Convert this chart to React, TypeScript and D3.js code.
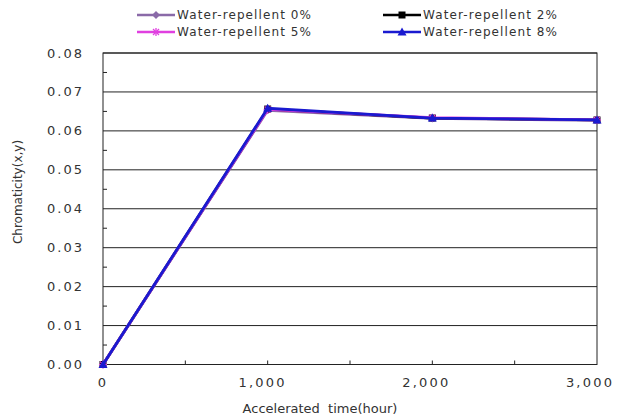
import React from "react";
import * as d3 from "d3";

const hours = [0, 1000, 2000, 3000];
const seriesNames = ["Water-repellent 0%", "Water-repellent 2%", "Water-repellent 5%", "Water-repellent 8%"];
const wr0 = [0, 0.0653, 0.0632, 0.0627];
const wr2 = [0, 0.0656, 0.0633, 0.0628];
const wr5 = [0, 0.0655, 0.0634, 0.0628];
const wr8 = [0, 0.0658, 0.0633, 0.0628];
const yTicks = [0, 0.01, 0.02, 0.03, 0.04, 0.05, 0.06, 0.07, 0.08];
const xTicks = [0, 1000, 2000, 3000];
const xMinor = [500, 1500, 2500];
const yMinor = [0.005, 0.015, 0.025, 0.035, 0.045, 0.055, 0.065, 0.075];

const colors = ["#8a6aa8", "#000000", "#e040e0", "#1a1ad0"];
const markers = ["diamond", "square", "star", "triangle"];

const W = 617, H = 419;
const L = 103, R = 597, T = 53, B = 364.5;

function Marker({ type, x, y, color }: { type: string; x: number; y: number; color: string }) {
  if (type === "diamond") {
    return <path d={`M${x},${y - 4}L${x + 4},${y}L${x},${y + 4}L${x - 4},${y}Z`} fill={color} />;
  }
  if (type === "square") {
    return <rect x={x - 3.5} y={y - 3.5} width={7} height={7} fill={color} />;
  }
  if (type === "star") {
    return (
      <g stroke={color} strokeWidth={1.3}>
        <line x1={x - 4} y1={y} x2={x + 4} y2={y} />
        <line x1={x} y1={y - 4} x2={x} y2={y + 4} />
        <line x1={x - 3} y1={y - 3} x2={x + 3} y2={y + 3} />
        <line x1={x - 3} y1={y + 3} x2={x + 3} y2={y - 3} />
      </g>
    );
  }
  return <path d={`M${x},${y - 4.5}L${x + 4.5},${y + 3.5}L${x - 4.5},${y + 3.5}Z`} fill={color} />;
}

export default function App() {
  const x = d3.scaleLinear().domain([0, 3000]).range([L, R]);
  const y = d3.scaleLinear().domain([0, 0.08]).range([B, T]);
  const data = [wr0, wr2, wr5, wr8];
  const line = d3
    .line<number>()
    .x((_, i) => x(hours[i]))
    .y((d) => y(d));
  const font = "'DejaVu Sans', sans-serif";
  const textColor = "#333";
  const legendPos = [
    { lx: 137, ty: 15 },
    { lx: 383, ty: 15 },
    { lx: 137, ty: 32 },
    { lx: 383, ty: 32 },
  ];
  return (
    <svg width={W} height={H} style={{ position: "absolute", left: 0, top: 0, background: "#fff" }}>
      <rect width={W} height={H} fill="#fff" />
      {yTicks.slice(1).map((t) => (
        <line key={t} x1={L} x2={R} y1={y(t)} y2={y(t)} stroke="#222" strokeWidth={1} />
      ))}
      <rect x={L} y={T} width={R - L} height={B - T} fill="none" stroke="#222" strokeWidth={1} />
      {yMinor.map((t) => (
        <line key={t} x1={L} x2={L + 4} y1={y(t)} y2={y(t)} stroke="#222" />
      ))}
      {xMinor.map((t) => (
        <line key={t} x1={x(t)} x2={x(t)} y1={B} y2={B - 4} stroke="#222" />
      ))}
      {xTicks.slice(1, 3).map((t) => (
        <line key={t} x1={x(t)} x2={x(t)} y1={B} y2={B - 4} stroke="#222" />
      ))}
      {yTicks.map((t) => (
        <text key={t} x={84} y={y(t)} dy="0.35em" textAnchor="end" fontFamily={font} fontSize={13} fill={textColor} letterSpacing={2}>
          {t.toFixed(2)}
        </text>
      ))}
      {xTicks.map((t) => (
        <text key={t} x={x(t) - (t === 0 ? 0 : 4 + t / 1000)} y={382} dy="0.35em" textAnchor="middle" fontFamily={font} fontSize={13} fill={textColor} letterSpacing={2.2}>
          {d3.format(",")(t)}
        </text>
      ))}
      <text x={320} y={408} dy="0.35em" textAnchor="middle" fontFamily={font} fontSize={13} fill={textColor} style={{ whiteSpace: "pre" }}>
        {"Accelerated  time(hour)"}
      </text>
      <text transform={`translate(18,192) rotate(-90)`} dy="0.35em" textAnchor="middle" fontFamily={font} fontSize={12} fill={textColor}>
        Chromaticity(x,y)
      </text>
      {data.map((vals, si) => (
        <g key={si}>
          <path d={line(vals) || ""} fill="none" stroke={colors[si]} strokeWidth={2.8} />
          {vals.map((v, i) => (
            <Marker key={i} type={markers[si]} x={x(hours[i])} y={y(v)} color={colors[si]} />
          ))}
        </g>
      ))}
      {seriesNames.map((name, si) => {
        const p = legendPos[si];
        return (
          <g key={name}>
            <line x1={p.lx} x2={p.lx + 38} y1={p.ty} y2={p.ty} stroke={colors[si]} strokeWidth={2.5} />
            <Marker type={markers[si]} x={p.lx + 19} y={p.ty} color={colors[si]} />
            <text x={p.lx + 40} y={p.ty} dy="0.35em" fontFamily={font} fontSize={12} fill={textColor} letterSpacing={1.1}>
              {name}
            </text>
          </g>
        );
      })}
    </svg>
  );
}
